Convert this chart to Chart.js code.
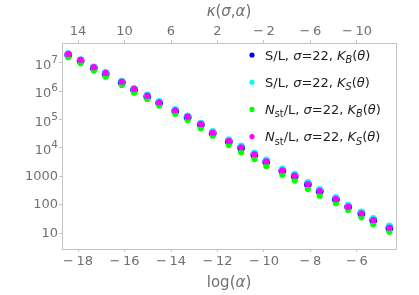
<!DOCTYPE html>
<html lang="en">
<head>
<meta charset="UTF-8">
<title>kappa scan</title>
<script src="https://cdn.jsdelivr.net/npm/chart.js"></script>
<style>
    html, body { margin: 0; padding: 0; background: #fff; }
    #wrap { width: 419px; height: 295px; }
</style>
</head>
<body>
<div id="wrap"><canvas id="chart" width="419" height="295"></canvas></div>
<script>
    // log(alpha) for alpha = 1e-8 ... 1e-2
    const logAlpha = [-18.421, -17.890, -17.322, -16.812,
        -16.118, -15.588, -15.020, -14.509,
        -13.816, -13.285, -12.717, -12.206,
        -11.513, -10.982, -10.414, -9.903,
        -9.210, -8.679, -8.112, -7.601,
        -6.908, -6.377, -5.809, -5.298,
        -4.605];

    const sBlue = [1.9e7, 1.17e7, 6.5e6, 4.1e6, 2.02e6, 1.12e6, 6.5e5, 3.85e5, 2.0e5, 1.2e5, 6.7e4, 3.3e4,
        1.7e4, 1.02e4, 5800, 3300, 1600, 1040, 530, 302, 158, 85, 50, 29, 15.4];
    const sCyan = [2.05e7, 1.28e7, 7.1e6, 4.5e6, 2.25e6, 1.25e6, 7.3e5, 4.3e5, 2.25e5, 1.35e5, 7.5e4, 3.8e4,
        1.95e4, 1.17e4, 6700, 3800, 1830, 1190, 610, 348, 182, 98, 57, 33.5, 18];
    const nGreen = [1.55e7, 9.5e6, 5.25e6, 3.2e6, 1.64e6, 8.8e5, 5.3e5, 3.08e5, 1.61e5, 9.7e4, 4.9e4, 2.7e4,
        1.28e4, 7050, 4100, 2330, 1150, 710, 360, 210, 114, 66, 36.5, 20.7, 11.4];
    const nMagenta = [2.03e7, 1.25e7, 6.9e6, 4.35e6, 2.15e6, 1.19e6, 6.9e5, 4.05e5, 2.12e5, 1.26e5, 7.0e4, 3.45e4,
        1.77e4, 1.06e4, 6000, 3400, 1640, 1060, 540, 308, 161, 86, 50.5, 29.4, 15.7];

    const xTicks = [-18, -16, -14, -12, -10, -8, -6];
    const kappaTicks = [14, 10, 6, 2, -2, -6, -10];
    const yTicks = [10, 100, 1000, 1e4, 1e5, 1e6, 1e7];

    // legend labels as [text, italic, subscript]
    const legendLabels = [
        [['S/L, '], ['σ', 1], ['=22, '], ['K', 1], ['B', 1, 1], ['('], ['θ', 1], [')']],
        [['S/L, '], ['σ', 1], ['=22, '], ['K', 1], ['S', 1, 1], ['('], ['θ', 1], [')']],
        [['N', 1], ['st', 0, 1], ['/L, '], ['σ', 1], ['=22, '], ['K', 1], ['B', 1, 1], ['('], ['θ', 1], [')']],
        [['N', 1], ['st', 0, 1], ['/L, '], ['σ', 1], ['=22, '], ['K', 1], ['S', 1, 1], ['('], ['θ', 1], [')']]
    ];
    const colors = ['#0000ff', '#00ffff', '#00ff00', '#ff00ff'];

    const FONT = "'DejaVu Sans'";
    const GRAY = '#707070';
    const FRAME = '#c4c4c4';

    function pts(arr) {
        return logAlpha.map((x, i) => ({ x: x, y: arr[i] }));
    }

    function minusLabel(v) {
        return v < 0 ? '−\u2009' + Math.abs(v) : String(v);
    }

    // draws a run of mixed italic / subscript parts starting at x
    function drawParts(ctx, parts, x, y, size) {
        parts.forEach(p => {
            const sub = p[2];
            const fs = sub ? size * 0.75 : size;
            ctx.font = (p[1] ? 'italic ' : '') + fs + 'px ' + FONT;
            ctx.fillText(p[0], x, sub ? y + size * 0.3 : y);
            x += ctx.measureText(p[0]).width;
        });
    }

    function partsWidth(ctx, parts, size) {
        let w = 0;
        parts.forEach(p => {
            const fs = p[2] ? size * 0.75 : size;
            ctx.font = (p[1] ? 'italic ' : '') + fs + 'px ' + FONT;
            w += ctx.measureText(p[0]).width;
        });
        return w;
    }

    const decorations = {
        id: 'decorations',
        afterDraw(chart) {
            const ctx = chart.ctx;
            const a = chart.chartArea;
            const y = chart.scales.y;
            ctx.save();

            // frame
            ctx.strokeStyle = FRAME;
            ctx.lineWidth = 1;
            ctx.strokeRect(Math.round(a.left) + 0.5, Math.round(a.top) + 0.5,
                Math.round(a.right - a.left), Math.round(a.bottom - a.top));

            // y tick labels with powers of ten
            ctx.fillStyle = GRAY;
            ctx.textBaseline = 'middle';
            ctx.textAlign = 'right';
            const lx = a.left - 4;
            yTicks.forEach(v => {
                const py = y.getPixelForValue(v);
                const e = Math.round(Math.log10(v));
                if (e < 4) {
                    ctx.font = '13px ' + FONT;
                    ctx.fillText(String(v), lx, py);
                } else {
                    ctx.font = '10.5px ' + FONT;
                    const ew = ctx.measureText(String(e)).width;
                    ctx.fillText(String(e), lx, py - 2.5);
                    ctx.font = '13px ' + FONT;
                    ctx.fillText('10', lx - ew, py + 3);
                }
            });

            // axis titles
            ctx.textAlign = 'left';
            const cx = (a.left + a.right) / 2;
            const bottomTitle = [['log('], ['α', 1], [')']];
            const topTitle = [['κ', 1], ['('], ['σ', 1], [','], ['α', 1], [')']];
            let w = partsWidth(ctx, bottomTitle, 15);
            drawParts(ctx, bottomTitle, cx - w / 2, 283, 15);
            w = partsWidth(ctx, topTitle, 15);
            drawParts(ctx, topTitle, cx - w / 2, 12, 15);

            // legend
            const mx = a.right - 144;
            legendLabels.forEach((parts, i) => {
                const my = a.top + 12 + i * 27.2;
                ctx.fillStyle = colors[i];
                ctx.beginPath();
                ctx.arc(mx, my, 2.6, 0, Math.PI * 2);
                ctx.fill();
                ctx.fillStyle = '#1e1e1e';
                drawParts(ctx, parts, mx + 13, my + 1.5, 13);
            });
            ctx.restore();
        }
    };

    const tickFont = { family: FONT, size: 13 };

    new Chart(document.getElementById('chart'), {
        type: 'scatter',
        data: {
            datasets: [
                { label: 'S/L B', data: pts(sBlue), backgroundColor: colors[0], pointRadius: 3.9, order: 4 },
                { label: 'S/L S', data: pts(sCyan), backgroundColor: colors[1], pointRadius: 3.4, order: 3 },
                { label: 'Nst/L B', data: pts(nGreen), backgroundColor: colors[2], pointRadius: 3.1, order: 2 },
                { label: 'Nst/L S', data: pts(nMagenta), backgroundColor: colors[3], pointRadius: 3.1, order: 1 }
            ]
        },
        options: {
            responsive: false,
            animation: false,
            events: [],
            elements: { point: { borderWidth: 0 } },
            layout: { padding: { left: 0, right: 23, top: 0, bottom: 0 } },
            plugins: { legend: { display: false }, tooltip: { enabled: false } },
            scales: {
                x: {
                    type: 'linear',
                    position: 'bottom',
                    min: -18.69,
                    max: -4.32,
                    afterBuildTicks: s => { s.ticks = xTicks.map(v => ({ value: v })); },
                    afterFit: s => { s.height = 46; },
                    ticks: { callback: v => minusLabel(v), color: GRAY, font: tickFont, padding: 2, maxRotation: 0 },
                    grid: { drawOnChartArea: false, tickLength: 3, color: FRAME },
                    border: { display: false }
                },
                x2: {
                    type: 'linear',
                    position: 'top',
                    min: -18.69,
                    max: -4.32,
                    afterBuildTicks: s => { s.ticks = kappaTicks.map(k => ({ value: -(k + 22) / 2 })); },
                    afterFit: s => { s.height = 43; },
                    ticks: { callback: v => minusLabel(Math.round(-2 * v - 22)), color: GRAY, font: tickFont, padding: 1, maxRotation: 0 },
                    grid: { drawOnChartArea: false, tickLength: 3, color: FRAME },
                    border: { display: false }
                },
                y: {
                    type: 'logarithmic',
                    min: 2.8,
                    max: 4.9e7,
                    afterBuildTicks: s => { s.ticks = yTicks.map(v => ({ value: v })); },
                    afterFit: s => { s.width = 62; },
                    ticks: { callback: () => '', font: tickFont },
                    grid: { drawOnChartArea: false, tickLength: 3, color: FRAME },
                    border: { display: false }
                }
            }
        },
        plugins: [decorations]
    });
</script>
</body>
</html>
